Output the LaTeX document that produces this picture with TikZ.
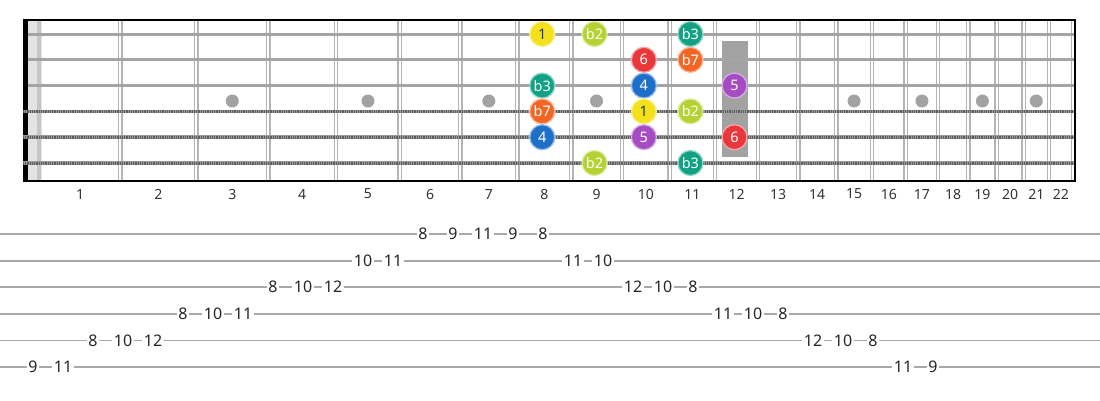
\documentclass[tikz,border=0pt]{standalone}
\usepackage{fontspec}
\setmainfont{Noto Sans}
\usetikzlibrary{positioning}
\definecolor{fretgray}{HTML}{B4B4B4}
\definecolor{stringgray}{HTML}{A4A4A4}
\definecolor{woundgray}{HTML}{9A9A9A}
\definecolor{wounddark}{HTML}{5E5E5E}
\definecolor{inlaygray}{HTML}{A2A2A2}
\definecolor{tabgray}{HTML}{A8A8A8}
\definecolor{ncyellow}{HTML}{F3E11E}
\definecolor{nclime}{HTML}{B4D232}
\definecolor{ncteal}{HTML}{10A283}
\definecolor{ncred}{HTML}{E8383C}
\definecolor{ncorange}{HTML}{F26524}
\definecolor{ncblue}{HTML}{1E6FCA}
\definecolor{ncpurple}{HTML}{A54CC2}

\begin{document}
\begin{tikzpicture}[x=1pt,y=-1pt,
  note/.style={circle, minimum size=25pt, inner sep=0pt, line width=1.3pt, font=\fontsize{14.5}{15}\selectfont},
  tabnum/.style={fill=white, inner sep=1.6pt, font=\fontsize{16}{16}\selectfont, text=black!85},
  fretnum/.style={font=\fontsize{14}{14}\selectfont, text=black!80}]
\useasboundingbox (0,0) rectangle (1100,400);
\def\nutx{40}
\def\scalelen{1436}

% Nut
\fill[black] (23,20) rectangle (28,181);
\fill[gray!22] (28,20) rectangle (42,181);
\fill[gray!45] (37,20) rectangle (41,181);

% Frets (double wires)
\foreach \f in {1,...,22} {
  \pgfmathsetmacro\fx{\nutx+\scalelen*(1-2^(-\f/12))}
  \draw[fretgray, line width=1.5pt] (\fx-1.7,20) -- (\fx-1.7,181);
  \draw[fretgray, line width=1.5pt] (\fx+1.7,20) -- (\fx+1.7,181);
}

% Fret numbers
\foreach \f in {1,...,22} {
  \pgfmathsetmacro\fa{\nutx+\scalelen*(1-2^(-(\f-1)/12))}
  \pgfmathsetmacro\fb{\nutx+\scalelen*(1-2^(-\f/12))}
  \node[fretnum] (fn\f) at ({(\fa+\fb)/2},194) {\f};
}

% Inlays
\foreach \f in {3,5,7,9,15,17,19,21} {
  \pgfmathsetmacro\fa{\nutx+\scalelen*(1-2^(-(\f-1)/12))}
  \pgfmathsetmacro\fb{\nutx+\scalelen*(1-2^(-\f/12))}
  \fill[inlaygray] ({(\fa+\fb)/2},101) circle (6.5);
}
\fill[inlaygray] (722,41) rectangle (748,157);

% Strings
\foreach \y in {34,59.8,85.6} \draw[stringgray, line width=3pt] (28,\y) -- (1075,\y);
\foreach \y in {111.4,137.2,163} {
  \draw[woundgray, line width=3.6pt] (23,\y) -- (1075,\y);
  \draw[wounddark, line width=3pt, dash pattern=on 0.8pt off 1pt] (23,\y) -- (1075,\y);
}

% Frame
\draw[black, line width=2pt] (23,20) -- (1075,20);
\draw[black, line width=2pt] (23,181) -- (1075,181);
\draw[black, line width=2pt] (1075,19) -- (1075,182);

% Scale notes
\foreach \f/\s/\lbl/\col/\tc [count=\i] in {
  8/1/1/ncyellow/black!80, 9/1/b2/nclime/white, 11/1/b3/ncteal/white,
  10/2/6/ncred/white, 11/2/b7/ncorange/white,
  8/3/b3/ncteal/white, 10/3/4/ncblue/white, 12/3/5/ncpurple/white,
  8/4/b7/ncorange/white, 10/4/1/ncyellow/black!80, 11/4/b2/nclime/white,
  8/5/4/ncblue/white, 10/5/5/ncpurple/white, 12/5/6/ncred/white,
  9/6/b2/nclime/white, 11/6/b3/ncteal/white} {
  \pgfmathsetmacro\fa{\nutx+\scalelen*(1-2^(-(\f-1)/12))}
  \pgfmathsetmacro\fb{\nutx+\scalelen*(1-2^(-\f/12))}
  \node[note, fill=\col, draw=\col!45!white, text=\tc] (n\i) at ({(\fa+\fb)/2-2},{34+25.8*(\s-1)}) {\lbl};
}

% Tab staff
\foreach \s in {1,...,6} \draw[tabgray, line width=1.8pt] (0,{234+26.6*(\s-1)}) -- (1100,{234+26.6*(\s-1)});

% Tab numbers
\foreach \s/\fr [count=\i] in {6/9,6/11,5/8,5/10,5/12,4/8,4/10,4/11,3/8,3/10,3/12,2/10,2/11,
  1/8,1/9,1/11,1/9,1/8,2/11,2/10,3/12,3/10,3/8,4/11,4/10,4/8,5/12,5/10,5/8,6/11,6/9}
  \node[tabnum] (t\i) at ({33+30*(\i-1)},{234+26.6*(\s-1)}) {\fr};

\end{tikzpicture}
\end{document}
